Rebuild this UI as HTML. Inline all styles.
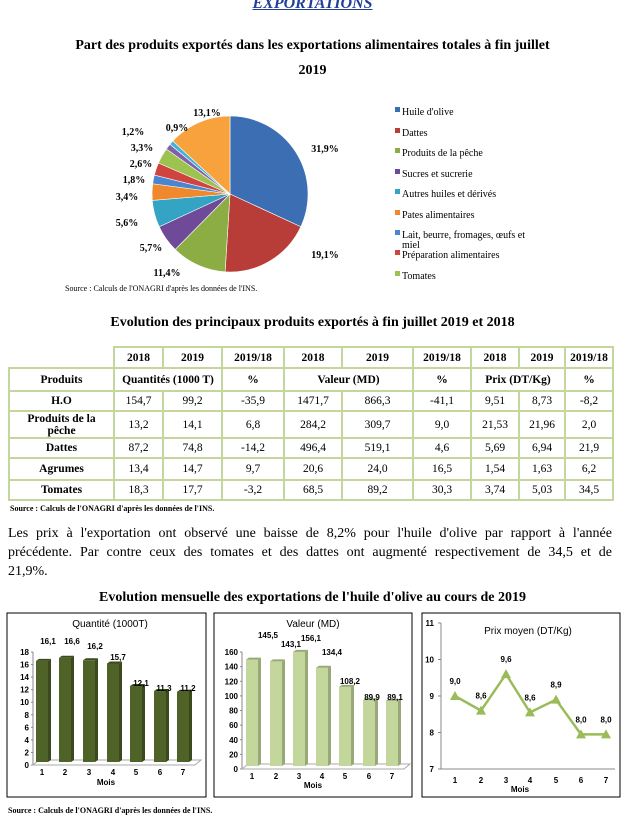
<!DOCTYPE html>
<html><head><meta charset="utf-8"><style>
body{margin:0;width:625px;height:830px;background:#fff;position:relative;overflow:hidden;font-family:"Liberation Serif",serif;color:#000}
.abs{position:absolute}
table{border-collapse:collapse;position:absolute;left:8px;top:346px;font-size:11.5px;table-layout:fixed;width:604px}
td{border:2px solid #c3d69b;text-align:center;padding:0;font-family:"Liberation Serif",serif;overflow:hidden}
.b{font-weight:bold}
.j{text-align:justify;text-align-last:justify;height:19px}
</style></head><body>
<div class="abs" style="left:0;width:625px;top:-5px;text-align:center;font:italic bold 16px 'Liberation Serif',serif;color:#1f3f99;text-decoration:underline">EXPORTATIONS</div>
<div class="abs b" style="left:60px;width:505px;top:33px;text-align:center;font-size:14px;line-height:25px">Part des produits exportés dans les exportations alimentaires totales à fin juillet 2019</div>
<svg class="abs" style="left:0;top:0" width="625" height="830" id="s" font-family="Liberation Serif, serif"></svg>
<div class="abs" style="left:65px;top:284px;font-size:8px">Source : Calculs de l'ONAGRI  d'après les données de l'INS.</div>
<div class="abs b" style="left:0;width:625px;top:315px;text-align:center;font-size:14px">Evolution des principaux produits exportés à fin juillet 2019 et 2018</div>
<table>
<colgroup><col style="width:105px"><col style="width:49px"><col style="width:59px"><col style="width:62px"><col style="width:58px"><col style="width:71px"><col style="width:58px"><col style="width:48px"><col style="width:46px"><col style="width:48px"></colgroup>
<tr style="height:21px" class="b"><td style="border:none;border-bottom:2px solid #c3d69b"></td><td>2018</td><td>2019</td><td>2019/18</td><td>2018</td><td>2019</td><td>2019/18</td><td>2018</td><td>2019</td><td>2019/18</td></tr>
<tr style="height:23px" class="b"><td>Produits</td><td colspan="2">Quantités (1000 T)</td><td>%</td><td colspan="2">Valeur (MD)</td><td>%</td><td colspan="2">Prix (DT/Kg)</td><td>%</td></tr>
<tr style="height:20px"><td class="b">H.O</td><td>154,7</td><td>99,2</td><td>-35,9</td><td>1471,7</td><td>866,3</td><td>-41,1</td><td>9,51</td><td>8,73</td><td>-8,2</td></tr>
<tr style="height:27px"><td class="b" style="line-height:12px;padding:0 12px">Produits de la pêche</td><td>13,2</td><td>14,1</td><td>6,8</td><td>284,2</td><td>309,7</td><td>9,0</td><td>21,53</td><td>21,96</td><td>2,0</td></tr>
<tr style="height:20px"><td class="b">Dattes</td><td>87,2</td><td>74,8</td><td>-14,2</td><td>496,4</td><td>519,1</td><td>4,6</td><td>5,69</td><td>6,94</td><td>21,9</td></tr>
<tr style="height:22px"><td class="b">Agrumes</td><td>13,4</td><td>14,7</td><td>9,7</td><td>20,6</td><td>24,0</td><td>16,5</td><td>1,54</td><td>1,63</td><td>6,2</td></tr>
<tr style="height:20px"><td class="b">Tomates</td><td>18,3</td><td>17,7</td><td>-3,2</td><td>68,5</td><td>89,2</td><td>30,3</td><td>3,74</td><td>5,03</td><td>34,5</td></tr>
</table>
<div class="abs b" style="left:10px;top:504px;font-size:8px">Source : Calculs de l'ONAGRI d'après les données de l'INS.</div>
<div class="abs" style="left:8px;width:604px;top:524px;font-size:14px;line-height:19px">
<div class="j">Les prix à l'exportation ont observé une baisse de 8,2% pour l'huile d'olive par rapport à l'année</div>
<div class="j">précédente. Par contre ceux des tomates et des dattes ont augmenté respectivement de 34,5 et de</div>
<div>21,9%.</div></div>
<div class="abs b" style="left:0;width:625px;top:590px;text-align:center;font-size:14px">Evolution mensuelle des exportations de l'huile d'olive au cours de 2019</div>
<div class="abs b" style="left:8px;top:806px;font-size:8px">Source : Calculs de l'ONAGRI  d'après les données de l'INS.</div>
<script>
const s=document.getElementById('s');let h='';
const cx=230,cy=194,r=78;
const data=[[31.9,'#3c6eb4'],[19.1,'#b83c38'],[11.4,'#8bad43'],[5.7,'#6e4a98'],[5.6,'#34a4c4'],[3.4,'#f0892c'],[1.8,'#4a86d0'],[2.6,'#d04440'],[3.3,'#9cc250'],[1.2,'#8060aa'],[0.9,'#40b4d4'],[13.1,'#f7a23c']];
let a=0;
data.forEach(([v,c])=>{const a0=a,a1=a+v/100*2*Math.PI;a=a1;
const x0=cx+r*Math.sin(a0),y0=cy-r*Math.cos(a0),x1=cx+r*Math.sin(a1),y1=cy-r*Math.cos(a1);
h+=`<path d="M${cx},${cy}L${x0},${y0}A${r},${r} 0 ${a1-a0>Math.PI?1:0} 1 ${x1},${y1}Z" fill="${c}" stroke="#fff" stroke-width="0.6"/>`;});
const lab=[['13,1%',207,116],['0,9%',177,131],['1,2%',133,135],['3,3%',142,151],['2,6%',141,167],['1,8%',134,183],['3,4%',127,200],['5,6%',127,226],['5,7%',151,251],['11,4%',167,276],['19,1%',325,258],['31,9%',325,152]];
lab.forEach(([t,x,y])=>h+=`<text x="${x}" y="${y}" font-size="10" font-weight="bold" text-anchor="middle">${t}</text>`);
const leg=[['Huile d\'olive',111],['Dattes',132],['Produits de la pêche',152],['Sucres et sucrerie',173],['Autres huiles et dérivés',193],['Pates alimentaires',214],['Lait, beurre, fromages, œufs et',234],['Préparation alimentaires',254],['Tomates',275]];
leg.forEach(([t,y],i)=>{h+=`<rect x="395" y="${y-4}" width="5" height="5" fill="${data[i][1]}"/><text x="402" y="${y+4}" font-size="10">${t}</text>`;});
h+=`<text x="402" y="248" font-size="10">miel</text>`;
[[7,206],[214,412],[422,620]].forEach(([x0,x1])=>h+=`<rect x="${x0}" y="613" width="${x1-x0}" height="184" fill="#fff" stroke="#000" stroke-width="1"/>`);
const sf='font-family="Liberation Sans, sans-serif"';
function bars(title,tx,ax,y0,ytop,max,step,vals,labs,xs,col,dark){
 h+=`<text x="${tx}" y="627" font-size="10" ${sf} text-anchor="middle">${title}</text>`;
 for(let v=0;v<=max;v+=step){const y=y0-(y0-ytop)*v/max;h+=`<text x="${ax-4}" y="${y+3}" font-size="8" ${sf} font-weight="bold" text-anchor="end">${v}</text><line x1="${ax-2}" x2="${ax}" y1="${y}" y2="${y}" stroke="#888"/>`;}
 h+=`<line x1="${ax}" x2="${ax}" y1="${ytop}" y2="${y0}" stroke="#888"/><polygon points="${ax},${y0} ${ax+6},${y0-5} ${xs[6]+18},${y0-5} ${xs[6]+12},${y0}" fill="none" stroke="#aaa"/>`;
 vals.forEach((v,i)=>{const x=xs[i],top=y0-(y0-ytop)*v/max-3;
  h+=`<rect x="${x-6}" y="${top}" width="12" height="${y0-top-3}" fill="${col}"/><polygon points="${x+6},${top} ${x+9},${top-2} ${x+9},${y0-5} ${x+6},${y0-3}" fill="${dark}"/><polygon points="${x-6},${top} ${x-3},${top-2} ${x+9},${top-2} ${x+6},${top}" fill="${dark}"/>`;
  h+=`<text x="${x}" y="${y0+10}" font-size="8" font-weight="bold" ${sf} text-anchor="middle">${i+1}</text>`;});
 labs.forEach(([t,x,y])=>h+=`<text x="${x}" y="${y}" font-size="8" font-weight="bold" ${sf} text-anchor="middle">${t}</text>`);
}
bars('Quantité (1000T)',110,33,765,652,18,2,[16.1,16.6,16.2,15.7,12.1,11.3,11.2],[['16,1',48,644],['16,6',72,644],['16,2',95,649],['15,7',118,660],['12,1',141,686],['11,3',164,691],['11,2',188,691]],[42,65,89,113,136,160,183],'#4f6228','#3a4a1c');
h+=`<text x="106" y="785" font-size="8" font-weight="bold" ${sf} text-anchor="middle">Mois</text>`;
bars('Valeur (MD)',313,242,769,652,160,20,[145.5,143.1,156.1,134.4,108.2,89.9,89.1],[['145,5',268,638],['143,1',291,647],['156,1',311,641],['134,4',332,655],['108,2',350,684],['89,9',372,700],['89,1',395,700]],[252,276,299,322,345,369,392],'#c3d69b','#98a878');
h+=`<text x="313" y="788" font-size="8" font-weight="bold" ${sf} text-anchor="middle">Mois</text>`;
h+=`<text x="528" y="634" font-size="10" ${sf} text-anchor="middle">Prix moyen (DT/Kg)</text>`;
const ly=v=>769-(v-7)*(769-623)/4;
h+=`<line x1="441" x2="441" y1="623" y2="769" stroke="#888"/><line x1="441" x2="615" y1="769" y2="769" stroke="#888"/>`;
for(let v=7;v<=11;v++)h+=`<text x="434" y="${ly(v)+3}" font-size="8" font-weight="bold" ${sf} text-anchor="end">${v}</text><line x1="438" x2="441" y1="${ly(v)}" y2="${ly(v)}" stroke="#888"/>`;
const lx=[455,481,506,530,556,581,606],lv=[9.0,8.6,9.6,8.55,8.9,7.95,7.95],lt=['9,0','8,6','9,6','8,6','8,9','8,0','8,0'];
h+=`<polyline points="${lx.map((x,i)=>x+','+ly(lv[i])).join(' ')}" fill="none" stroke="#9bbb59" stroke-width="2.5"/>`;
lx.forEach((x,i)=>{const y=ly(lv[i]);h+=`<polygon points="${x},${y-5} ${x+5},${y+4} ${x-5},${y+4}" fill="#9bbb59"/><text x="${x}" y="${y-12}" font-size="8" font-weight="bold" ${sf} text-anchor="middle">${lt[i]}</text><text x="${x}" y="783" font-size="8" font-weight="bold" ${sf} text-anchor="middle">${i+1}</text>`;});
h+=`<text x="520" y="792" font-size="8" font-weight="bold" ${sf} text-anchor="middle">Mois</text>`;
s.innerHTML=h;
</script>
</body></html>
